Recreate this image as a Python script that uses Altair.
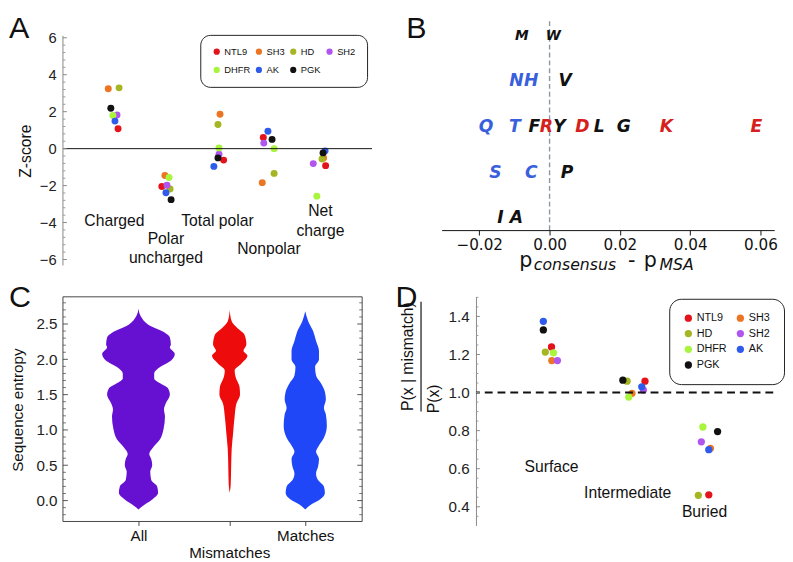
import altair as alt
import pandas as pd
import numpy as np

FONT = "Liberation Sans"
BFONT = "DejaVu Sans"

proteins = ["NTL9", "SH3", "HD", "SH2", "DHFR", "AK", "PGK"]
prot_colors = ["#e3121b", "#ec7524", "#a5b523", "#b056ee", "#a9f43d", "#2f5bea", "#111111"]
color_of = dict(zip(proteins, prot_colors))
# legend entries fill column by column; these orders give the reference's row layout
legend_order_A = ["NTL9", "DHFR", "SH3", "AK", "HD", "PGK", "SH2"]
legend_order_D = ["NTL9", "HD", "DHFR", "PGK", "SH3", "SH2", "AK"]

# ---------------- Panel A data ----------------
categories_A = ["Charged", "Polar uncharged", "Total polar", "Nonpolar", "Net charge"]
z_NTL9 = [1.08, -2.05, -0.62, 0.60, -0.92]
z_SH3 = [3.24, -1.45, 1.86, -1.84, -0.50]
z_HD = [3.29, -2.18, 1.31, -1.34, -0.56]
z_SH2 = [1.82, -1.98, -0.30, 0.30, -0.81]
z_DHFR = [1.79, -1.56, 0.04, 0.00, -2.57]
z_AK = [1.49, -2.39, -0.96, 0.94, -0.12]
z_PGK = [2.19, -2.76, -0.50, 0.50, -0.23]
j_NTL9 = [0.07, -0.08, 0.12, -0.11, 0.10]
j_SH3 = [-0.12, -0.02, 0.05, -0.13, 0.06]
j_HD = [0.09, 0.08, 0.01, 0.10, 0.03]
j_SH2 = [0.05, 0.02, 0.03, -0.10, -0.14]
j_DHFR = [-0.03, 0.06, 0.03, 0.10, -0.07]
j_AK = [0.01, 0.00, -0.07, -0.02, 0.09]
j_PGK = [-0.07, 0.10, 0.01, 0.06, 0.05]
labA_text = ["Charged", "Polar", "uncharged", "Total polar", "Nonpolar", "Net", "charge"]
labA_pos = [1, 2, 2, 3, 4, 5, 5]
labA_y = [-3.93, -4.90, -5.91, -3.93, -5.43, -3.38, -4.44]

# ---------------- Panel B data ----------------
aa_letter = ["M", "W", "N", "H", "V", "Q", "T", "F", "R", "Y", "D", "L", "G", "K", "E", "S", "C", "P", "I", "A"]
aa_diff = [-0.0079, 0.0011, -0.0094, -0.0052, 0.0044, -0.0181, -0.0099, -0.0043, -0.0009, 0.0028,
           0.0093, 0.0141, 0.0211, 0.0332, 0.0588, -0.0154, -0.0052, 0.0050, -0.0140, -0.0094]
aa_row = [5, 5, 4, 4, 4, 3, 3, 3, 3, 3, 3, 3, 3, 3, 3, 2, 2, 2, 1, 1]
aa_class = ["h", "h", "p", "p", "h", "p", "p", "h", "c", "h", "c", "h", "h", "c", "c", "p", "p", "h", "h", "h"]
class_colors = {"h": "#111111", "p": "#3a5fdc", "c": "#d6201c"}

# ---------------- Panel C data ----------------
violin_groups = ["All", "Mismatches", "Matches"]
violin_centers = [0.77, 1.70, 2.47]
violin_colors = ["#6610d2", "#ee0b0b", "#1f47f7"]
E_all = [-0.125, -0.08, 0.014, 0.11, 0.20, 0.29, 0.41, 0.50, 0.59, 0.66, 0.755, 0.87, 1.01, 1.19, 1.29,
         1.38, 1.50, 1.59, 1.66, 1.73, 1.80, 1.89, 1.98, 2.075, 2.17, 2.21, 2.31, 2.375, 2.49, 2.61, 2.72]
W_all = [0, 4, 14, 20, 19, 13, 12, 14, 13, 11, 15, 22, 25.5, 27, 26,
         28, 32, 30, 22, 16, 16, 22, 33, 37, 32, 33, 32, 27, 10, 2.3, 0]
E_mis = [0.11, 0.22, 0.50, 0.73, 0.96, 1.19, 1.38, 1.50, 1.61, 1.75, 1.84, 1.94, 2.05, 2.12, 2.21, 2.35, 2.44, 2.54, 2.70]
W_mis = [0, 1, 1.5, 2, 3.5, 5, 7, 10.5, 10, 6, 5, 12, 18, 14, 17, 15, 8, 2, 0]
E_mat = [-0.125, -0.055, 0.014, 0.11, 0.20, 0.29, 0.385, 0.48, 0.59, 0.69, 0.78, 0.89, 1.06, 1.22, 1.31,
         1.43, 1.54, 1.66, 1.77, 1.89, 2.0, 2.12, 2.26, 2.40, 2.54, 2.68]
W_mat = [0, 6, 15, 20, 19, 13, 11, 13, 14, 11, 14, 19, 22, 21, 19,
         21, 20, 16, 11, 10, 14, 14, 11, 8, 3, 0]

# ---------------- Panel D data ----------------
categories_D = ["Surface", "Intermediate", "Buried"]
d_NTL9 = [1.24, 1.06, 0.463]
d_SH3 = [1.168, 0.996, 0.707]
d_HD = [1.213, 1.06, 0.46]
d_SH2 = [1.168, 1.013, 0.741]
d_DHFR = [1.209, 0.976, 0.819]
d_AK = [1.374, 1.03, 0.70]
d_PGK = [1.329, 1.065, 0.795]
k_NTL9 = [0.0, 0.191, 0.004]
k_SH3 = [0.004, 0.025, 0.025]
k_HD = [-0.079, -0.037, -0.129]
k_SH2 = [0.075, 0.171, -0.091]
k_DHFR = [0.025, -0.016, -0.071]
k_AK = [-0.104, 0.15, 0.004]
k_PGK = [-0.104, -0.091, 0.116]
labD_y = [0.606, 0.472, 0.374]
labD_pos = [1.0, 1.97, 2.95]


def text_at(t, x, y, size, font=FONT, **kw):
    return alt.Chart(pd.DataFrame({"t": [t]})).mark_text(
        font=font, fontSize=size, color="#111", **kw
    ).encode(text="t:N", x=alt.value(x), y=alt.value(y))


def seg(x1, x2, y1, y2, color="#444", width=1):
    return alt.Chart(pd.DataFrame({"a": [0]})).mark_rule(color=color, strokeWidth=width).encode(
        x=alt.value(x1), x2=alt.value(x2), y=alt.value(y1), y2=alt.value(y2))


# ================= Panel A =================
rowsA = []
for p, zs, js in zip(proteins, [z_NTL9, z_SH3, z_HD, z_SH2, z_DHFR, z_AK, z_PGK],
                     [j_NTL9, j_SH3, j_HD, j_SH2, j_DHFR, j_AK, j_PGK]):
    for i, (z, j) in enumerate(zip(zs, js)):
        rowsA.append({"protein": p, "pos": i + 1 + j, "z": z})
dfA = pd.DataFrame(rowsA)
xA = alt.Scale(domain=[0, 6], nice=False, zero=False)
yA = alt.Scale(domain=[-6.32, 6.90], nice=False, zero=False)
ticksA = pd.DataFrame({"v": np.round(np.arange(-6, 6.01, 0.4), 2)})
ticksA["major"] = (np.abs(ticksA["v"] / 2 - np.round(ticksA["v"] / 2)) < 1e-6)

A_points = alt.Chart(dfA).mark_circle(size=50, opacity=1).encode(
    x=alt.X("pos:Q", scale=xA, axis=None),
    y=alt.Y("z:Q", scale=yA, axis=alt.Axis(
        values=[-6, -4, -2, 0, 2, 4, 6], domain=False, ticks=False, tickSize=0, grid=False,
        labelPadding=7, labelFont=FONT, labelFontSize=15, labelColor="#222",
        title="Z-score", titleFont=FONT, titleFontSize=16, titleFontWeight="normal", titleColor="#111",
        titleX=-38, titleY=132, titleAngle=270, titleBaseline="middle", titleAlign="center")),
    color=alt.Color("protein:N",
                    scale=alt.Scale(domain=legend_order_A, range=[color_of[p] for p in legend_order_A]),
                    legend=alt.Legend(title=None, orient="none", legendX=140, legendY=14, columns=4,
                                      strokeColor="#222", cornerRadius=10, padding=12, fillColor="white",
                                      symbolType="circle", symbolSize=40, symbolStrokeWidth=0,
                                      labelFont=FONT, labelFontSize=9.5, labelColor="#111", labelOffset=3,
                                      columnPadding=4, rowPadding=8)),
)
A_zero = alt.Chart(pd.DataFrame({"a": [0]})).mark_rule(color="#111", strokeWidth=1).encode(y=alt.datum(0))
A_axis = seg(0, 0, 15, 249, color="#888")
A_tmaj = alt.Chart(ticksA[ticksA["major"]]).mark_rule(color="#888").encode(
    x=alt.value(0), x2=alt.value(4), y="v:Q")
A_tmin = alt.Chart(ticksA[~ticksA["major"]]).mark_rule(color="#999").encode(
    x=alt.value(0), x2=alt.value(2.5), y="v:Q")
A_labels = alt.Chart(pd.DataFrame({"t": labA_text, "pos": labA_pos, "y": labA_y})).mark_text(
    font=FONT, fontSize=16, color="#111", baseline="middle", align="center").encode(
    x="pos:Q", y="y:Q", text="t:N")
A_letter = text_at("A", -55, 17.5, 31, align="left", baseline="alphabetic")

panelA = alt.layer(A_points, A_zero, A_axis, A_tmaj, A_tmin, A_labels, A_letter).properties(
    width=315, height=249)

# ================= Panel B =================
dfB = pd.DataFrame({"letter": aa_letter, "d": aa_diff, "row": aa_row, "cls": aa_class})
xB = alt.Scale(domain=[-0.0307, 0.0639], nice=False, zero=False)
yB = alt.Scale(domain=[0.74, 5.32], nice=False, zero=False)
B_dash = alt.Chart(pd.DataFrame({"a": [0]})).mark_rule(
    color="#8a98a4", strokeDash=[5, 3], strokeWidth=1.4).encode(x=alt.datum(0))


def letters(sub, color, size):
    ax = alt.Axis(values=[-0.02, 0, 0.02, 0.04, 0.06], format=".2f", grid=False,
                  domainColor="#111", tickColor="#111", tickSize=5, labelPadding=3,
                  labelFont=BFONT, labelFontSize=15.5, labelColor="#111", title=None)
    return alt.Chart(sub).mark_text(font=BFONT, fontWeight="bold", fontStyle="italic",
                                    baseline="middle", align="center", color=color, fontSize=size).encode(
        x=alt.X("d:Q", scale=xB, axis=ax), y=alt.Y("row:Q", scale=yB, axis=None), text="letter:N")


B_small = letters(dfB[(dfB["row"] == 5)], class_colors["h"], 14)
B_black = letters(dfB[(dfB["row"] < 5) & (dfB["cls"] == "h")], class_colors["h"], 17.5)
B_blue = letters(dfB[dfB["cls"] == "p"], class_colors["p"], 17.5)
B_red = letters(dfB[dfB["cls"] == "c"], class_colors["c"], 17.5)
B_t1 = text_at("p", 79, 251, 21, font=BFONT, align="left", baseline="alphabetic")
B_t2 = text_at("consensus", 94, 254, 16, font=BFONT, fontStyle="italic", align="left", baseline="alphabetic")
B_t3 = text_at("-", 190, 251, 21, font=BFONT, align="left", baseline="alphabetic")
B_t4 = text_at("p", 206, 251, 21, font=BFONT, align="left", baseline="alphabetic")
B_t5 = text_at("MSA", 222, 254, 16, font=BFONT, fontStyle="italic", align="left", baseline="alphabetic")
B_letter = text_at("B", -36, 17.5, 31, align="left", baseline="alphabetic")
panelB = alt.layer(B_dash, B_small, B_black, B_blue, B_red, B_t1, B_t2, B_t3, B_t4, B_t5, B_letter).properties(
    width=339, height=213)

# ================= Panel C =================
yC = alt.Scale(domain=[-0.296, 2.885], nice=False, zero=False)
xC = alt.Scale(domain=[0, 3.05], nice=False, zero=False)
ticksC = pd.DataFrame({"v": np.round(np.arange(-0.2, 2.81, 0.1), 2)})
ticksC["major"] = (np.abs(ticksC["v"] * 2 - np.round(ticksC["v"] * 2)) < 1e-6)

violins = []
for k, (g, c, col, E, W) in enumerate(zip(violin_groups, violin_centers, violin_colors,
                                          [E_all, E_mis, E_mat], [W_all, W_mis, W_mat])):
    dfv = pd.DataFrame({"e": E, "lo": [c - w / 100.0 for w in W], "hi": [c + w / 100.0 for w in W]})
    if k == 0:
        yax = alt.Axis(values=[0, 0.5, 1.0, 1.5, 2.0, 2.5], format=".1f", domain=False, ticks=False,
                       tickSize=0, grid=False, labelPadding=6, labelFont=FONT, labelFontSize=15.5,
                       labelColor="#222", title="Sequence entropy", titleFont=FONT, titleFontSize=15.5,
                       titleFontWeight="normal", titleColor="#111", titleX=-46, titleY=115,
                       titleAngle=270, titleBaseline="middle", titleAlign="center")
        xax = alt.Axis(values=violin_centers, domain=False, ticks=True, tickSize=4, tickColor="#444",
                       grid=False, labelExpr="datum.value < 1 ? 'All' : (datum.value < 2 ? '' : 'Matches')",
                       labelPadding=3, labelFont=FONT, labelFontSize=15.5, labelColor="#111", title=None)
        enc_y = alt.Y("e:Q", scale=yC, axis=yax)
        enc_x = alt.X("lo:Q", scale=xC, axis=xax)
    else:
        enc_y = alt.Y("e:Q", scale=yC)
        enc_x = alt.X("lo:Q", scale=xC)
    violins.append(alt.Chart(dfv).mark_area(orient="horizontal", interpolate="monotone", color=col,
                                            opacity=1).encode(y=enc_y, x=enc_x, x2="hi:Q"))

C_tl_maj = alt.Chart(ticksC[ticksC["major"]]).mark_rule(color="#555").encode(
    x=alt.value(0), x2=alt.value(5), y="v:Q")
C_tl_min = alt.Chart(ticksC[~ticksC["major"]]).mark_rule(color="#777").encode(
    x=alt.value(0), x2=alt.value(3), y="v:Q")
C_tr_maj = alt.Chart(ticksC[ticksC["major"]]).mark_rule(color="#555").encode(
    x=alt.value(300), x2=alt.value(305), y="v:Q")
C_tr_min = alt.Chart(ticksC[~ticksC["major"]]).mark_rule(color="#777").encode(
    x=alt.value(302), x2=alt.value(305), y="v:Q")
C_frame = [seg(0, 305, 0, 0), seg(0, 305, 229, 229), seg(0, 0, 0, 229), seg(305, 305, 0, 229)]
C_mis = text_at("Mismatches", 170, 261, 15.5, align="center", baseline="middle")
C_letter = text_at("C", -55, 10, 31, align="left", baseline="alphabetic")
panelC = alt.layer(*violins, C_tl_maj, C_tl_min, C_tr_maj, C_tr_min, *C_frame, C_mis, C_letter).properties(
    width=305, height=229)

# ================= Panel D =================
rowsD = []
for p, ds, ks in zip(proteins, [d_NTL9, d_SH3, d_HD, d_SH2, d_DHFR, d_AK, d_PGK],
                     [k_NTL9, k_SH3, k_HD, k_SH2, k_DHFR, k_AK, k_PGK]):
    for i, (d, k) in enumerate(zip(ds, ks)):
        rowsD.append({"prot": p, "pos": i + 1 + k, "r": d})
dfD = pd.DataFrame(rowsD)
xD = alt.Scale(domain=[0.0375, 3.825], nice=False, zero=False)
yD = alt.Scale(domain=[0.302, 1.503], nice=False, zero=False)
ticksD = pd.DataFrame({"v": np.round(np.arange(0.35, 1.501, 0.05), 3)})
ticksD["major"] = (np.abs(ticksD["v"] * 5 - np.round(ticksD["v"] * 5)) < 1e-6)

D_points = alt.Chart(dfD).mark_circle(size=55, opacity=1).encode(
    x=alt.X("pos:Q", scale=xD, axis=None),
    y=alt.Y("r:Q", scale=yD, axis=alt.Axis(
        values=[0.4, 0.6, 0.8, 1.0, 1.2, 1.4], format=".1f", domain=True, domainColor="#888",
        ticks=False, tickSize=0, grid=False, labelPadding=7, labelFont=FONT, labelFontSize=15.5,
        labelColor="#222", title=None)),
    fill=alt.Fill("prot:N",
                  scale=alt.Scale(domain=legend_order_D, range=[color_of[p] for p in legend_order_D]),
                  legend=alt.Legend(title=None, orient="none", legendX=197, legendY=2, columns=2,
                                    strokeColor="#222", cornerRadius=12, padding=14, fillColor="white",
                                    symbolType="circle", symbolSize=55, symbolStrokeWidth=0,
                                    labelFont=FONT, labelFontSize=11, labelColor="#111", labelOffset=3,
                                    columnPadding=8, rowPadding=4)),
)
D_dash = alt.Chart(pd.DataFrame({"a": [0]})).mark_rule(
    color="#111", strokeDash=[8, 5], strokeWidth=2).encode(y=alt.datum(1.0))
D_tmaj = alt.Chart(ticksD[ticksD["major"]]).mark_rule(color="#888").encode(
    x=alt.value(0), x2=alt.value(4), y="v:Q")
D_tmin = alt.Chart(ticksD[~ticksD["major"]]).mark_rule(color="#999").encode(
    x=alt.value(0), x2=alt.value(2.5), y="v:Q")
D_labels = alt.Chart(pd.DataFrame({"t": categories_D, "pos": labD_pos, "y": labD_y})).mark_text(
    font=FONT, fontSize=16, color="#111", baseline="middle", align="center").encode(
    x="pos:Q", y="y:Q", text="t:N")
D_num = text_at("P(x | mismatch)", -69, 61, 16, angle=270, align="center", baseline="middle")
D_bar = seg(-56, -56, 5, 117, color="#111", width=1.2)
D_den = text_at("P(x)", -43, 104, 16, angle=270, align="center", baseline="middle")
D_letter = text_at("D", -82, 10, 31, align="left", baseline="alphabetic")
panelD = alt.layer(D_points, D_dash, D_tmaj, D_tmin, D_labels, D_num, D_bar, D_den, D_letter).properties(
    width=303, height=233)

row1 = alt.hconcat(panelA, panelB, spacing=33).resolve_scale(color="independent", fill="independent")
row2 = alt.hconcat(panelC, panelD, spacing=32).resolve_scale(color="independent", fill="independent")
chart = alt.vconcat(row1, row2, spacing=7).resolve_scale(
    color="independent", fill="independent").properties(
    padding={"left": 0, "top": 0, "right": 0, "bottom": 0}).configure_view(stroke="transparent")

chart.save("out.html", embed_options={"renderer": "svg", "actions": False})
